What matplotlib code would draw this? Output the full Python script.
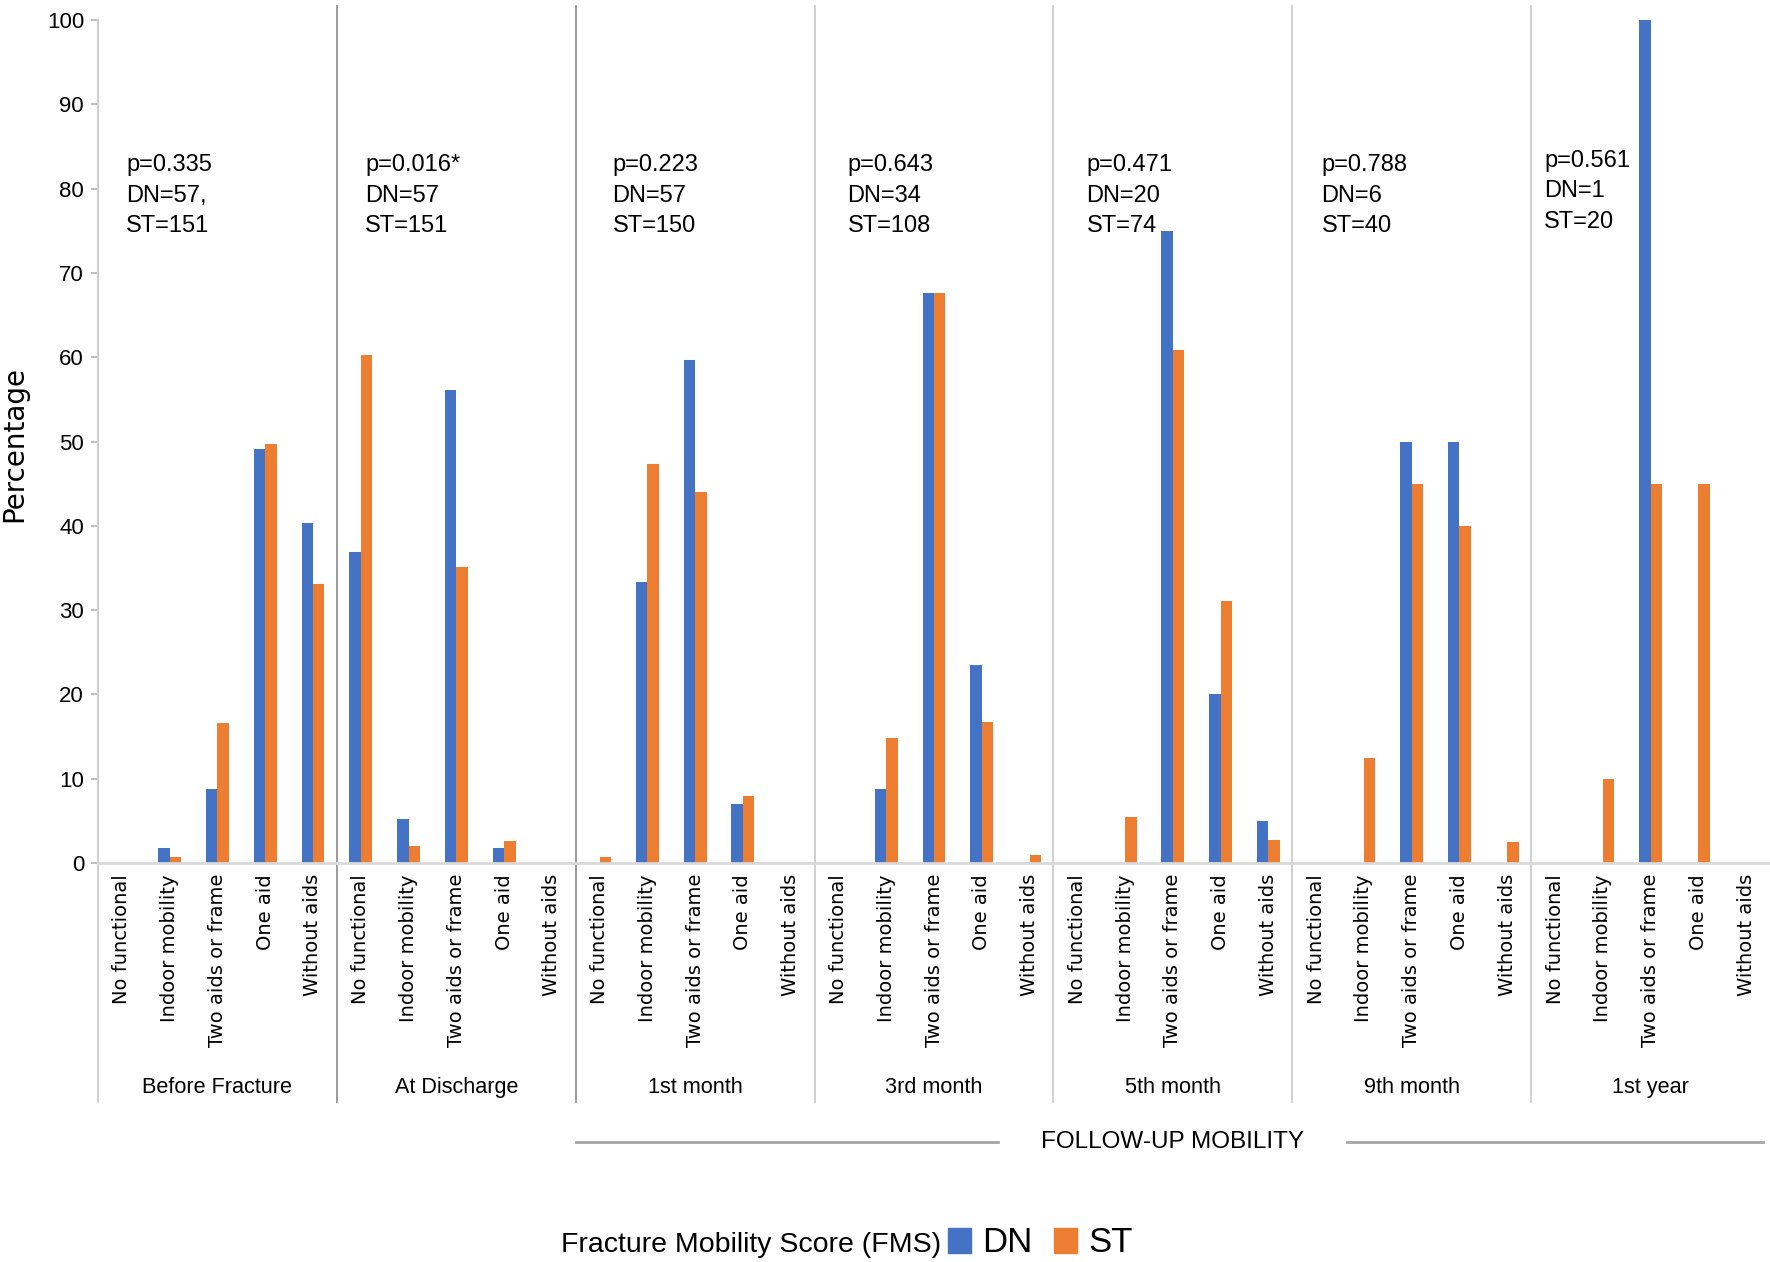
import numpy as np
import matplotlib
matplotlib.use('Agg')
import matplotlib.pyplot as plt
from matplotlib.patches import Patch
from matplotlib.transforms import blended_transform_factory

groups = ['Before Fracture', 'At Discharge', '1st month', '3rd month',
          '5th month', '9th month', '1st year']
levels = ['No functional', 'Indoor mobility', 'Two aids or frame', 'One aid', 'Without aids']

# percentages, 5 mobility levels per time point
dn = [0, 1.75, 8.77, 49.12, 40.35,
      36.84, 5.26, 56.14, 1.75, 0,
      0, 33.33, 59.65, 7.02, 0,
      0, 8.82, 67.65, 23.53, 0,
      0, 0, 75.0, 20.0, 5.0,
      0, 0, 50.0, 50.0, 0,
      0, 0, 100.0, 0, 0]
st = [0, 0.66, 16.56, 49.67, 33.11,
      60.26, 1.99, 35.10, 2.65, 0,
      0.67, 47.33, 44.0, 8.0, 0,
      0, 14.81, 67.59, 16.67, 0.93,
      0, 5.41, 60.81, 31.08, 2.70,
      0, 12.5, 45.0, 40.0, 2.5,
      0, 10.0, 45.0, 45.0, 0]
notes = ['p=0.335\nDN=57,\nST=151', 'p=0.016*\nDN=57\nST=151', 'p=0.223\nDN=57\nST=150',
         'p=0.643\nDN=34\nST=108', 'p=0.471\nDN=20\nST=74', 'p=0.788\nDN=6\nST=40',
         'p=0.561\nDN=1\nST=20']

BLUE = '#4472C4'
ORANGE = '#ED7D31'
SANS = ['Liberation Sans', 'DejaVu Sans']
NARROW = ['Liberation Sans Narrow', 'Liberation Sans', 'DejaVu Sans']
W, H = 1770, 1262

fig = plt.figure(figsize=(W / 100, H / 100), dpi=100)
ax = fig.add_axes([98 / W, 1 - 863 / H, 1672 / W, 843 / H])

x = np.arange(len(dn))
ax.bar(x - 0.12, dn, 0.24, color=BLUE, label='DN')
ax.bar(x + 0.12, st, 0.24, color=ORANGE, label='ST')
ax.set_xlim(-0.5, len(dn) - 0.5)
ax.set_ylim(0, 100)

ax.set_yticks(range(0, 101, 10))
ax.tick_params(axis='y', length=5, width=1.5, color='#bfbfbf', pad=5, labelsize=16)
for t in ax.get_yticklabels():
    t.set_family(NARROW)
ax.set_xticks(x, levels * len(groups), rotation=90, fontsize=14, family='DejaVu Sans')
ax.tick_params(axis='x', length=0, pad=8)

for s in ['top', 'right']:
    ax.spines[s].set_visible(False)
ax.spines['left'].set_color('#cfcfcf')
ax.spines['left'].set_linewidth(1.5)
ax.spines['bottom'].set_color('#d9d9d9')
ax.spines['bottom'].set_linewidth(2)

ax.set_ylabel('Percentage', fontsize=20, family='DejaVu Sans')
ax.yaxis.set_label_coords(-0.042, 0.497)

trans = blended_transform_factory(ax.transData, ax.transAxes)

# group brackets and separators
ax.plot([-0.5, -0.5], [-0.2835, 0], transform=trans, clip_on=False, color='#c8c8c8', lw=1.2)
for i, b in enumerate(np.arange(4.5, len(dn) - 1, 5)):
    col = '#8a8a8a' if i < 2 else '#c8c8c8'
    ax.plot([b, b], [-0.2835, 1.017], transform=trans, clip_on=False, color=col, lw=1.2)

for g, name in enumerate(groups):
    ax.text(g * 5 + 2, -0.266, name, transform=trans, ha='center', va='center',
            fontsize=15.6, family=SANS)

note_dx = [0.59, 0.59, 0.77, 0.69, 0.69, 0.61, 0.27]
for g, txt in enumerate(notes):
    ax.text(g * 5 - 0.5 + note_dx[g], 84.6 if g == 6 else 84.1, txt, ha='left', va='top',
            fontsize=17, family=SANS, linespacing=1.5)

# follow-up bracket
ax.plot([9.5, 18.35], [-0.331, -0.331], transform=trans, clip_on=False, color='#a6a6a6', lw=2)
ax.plot([25.65, 34.35], [-0.331, -0.331], transform=trans, clip_on=False, color='#a6a6a6', lw=2)
ax.text(22, -0.331, 'FOLLOW-UP MOBILITY', transform=trans, ha='center', va='center',
        fontsize=17.5, family=SANS)

# legend
fig.text(561 / W, 1 - 1245 / H, 'Fracture Mobility Score (FMS)', ha='left', va='center',
         fontsize=20.5, family=SANS)
handles = [Patch(color=BLUE, label='DN'), Patch(color=ORANGE, label='ST')]
fig.legend(handles=handles, loc='center left', bbox_to_anchor=(948 / W, 1 - 1243 / H),
           ncol=2, frameon=False, borderpad=0, borderaxespad=0, handlelength=0.66,
           handleheight=0.7, handletextpad=0.32, columnspacing=0.63,
           prop={'family': SANS, 'size': 25})

fig.savefig('out.png', dpi=100)
